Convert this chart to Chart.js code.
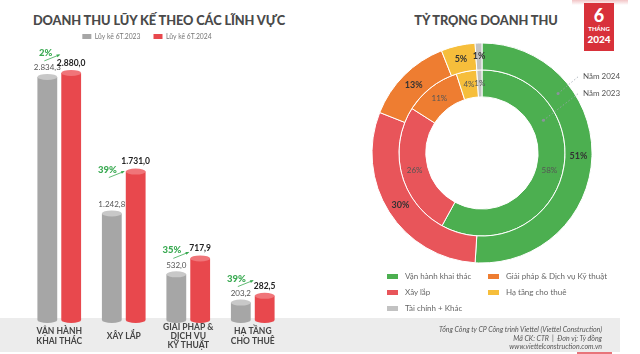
<!DOCTYPE html>
<html lang="vi">
<head>
<meta charset="utf-8">
<script src="https://cdn.jsdelivr.net/npm/chart.js@4.4.1/dist/chart.umd.min.js"></script>
<style>
  body { margin:0; width:640px; height:354px; background:#fff; position:relative; overflow:hidden; font-family: Lato, "Open Sans", sans-serif; }
  .band { position:absolute; left:0; top:318px; width:620px; height:34px; background:#ececec; }
  .title { position:absolute; font-weight:900; color:#4a4a4a; text-align:center; white-space:nowrap; letter-spacing:-0.1px; }
  #t1 { left:0; top:12px; width:318px; font-size:12.8px; }
  #t2 { left:400px; top:12px; width:172px; font-size:12.8px; }
  #barBox { position:absolute; left:0; top:20px; width:294px; height:334px; }
  #pieBox { position:absolute; left:360px; top:30px; width:280px; height:240px; }
  .shade { position:absolute; left:572px; top:0; width:56px; height:5px; background:linear-gradient(#f2c4c6, #fff); }
  .badge { position:absolute; left:584px; top:3px; width:30px; height:48px; background:#d8313a; color:#fff; text-align:center; font-weight:900; }
  .badge .n { font-size:18px; line-height:20px; margin-top:2px; }
  .badge .m { font-size:6px; line-height:8px; }
  .badge .y { font-size:10px; line-height:13px; }
  #legend2 { position:absolute; left:387px; top:268px; display:grid; grid-template-columns:101px 150px; grid-auto-rows:16px; font-size:8px; color:#666; }
  #legend2 div { display:flex; align-items:center; white-space:nowrap; }
  #legend2 span { display:inline-block; width:11px; height:5px; margin-right:7px; }
  .footer { position:absolute; right:38px; top:325px; text-align:right; font-style:italic; font-size:7px; line-height:8.5px; color:#555; }
  .redline { position:absolute; left:577px; top:352px; width:35px; height:2px; background:#e8747a; }
</style>
</head>
<body>
<div class="band"></div>
<div class="redline"></div>
<div class="title" id="t1">DOANH THU LŨY KẾ THEO CÁC LĨNH VỰC</div>
<div class="title" id="t2">TỶ TRỌNG DOANH THU</div>
<div class="shade"></div>
<div class="badge"><div class="n">6</div><div class="m">THÁNG</div><div class="y">2024</div></div>
<div id="barBox"><canvas id="barChart"></canvas></div>
<div id="pieBox"><canvas id="pieChart"></canvas></div>
<div id="legend2"></div>
<div class="footer">Tổng Công ty CP Công trình Viettel (Viettel Construction)<br>Mã CK: CTR &nbsp;|&nbsp; Đơn vị: Tỷ đồng<br>www.viettelconstruction.com.vn</div>
<script>
// bar chart data
const categories = [['VẬN HÀNH', 'KHAI THÁC'], ['XÂY LẮP'], ['GIẢI PHÁP &', 'DỊCH VỤ', 'KỸ THUẬT'], ['HẠ TẦNG', 'CHO THUÊ']];
const seriesNames = ['Lũy kế 6T.2023', 'Lũy kế 6T.2024'];
const values2023 = [2834.3, 1242.8, 532.0, 203.2];
const values2024 = [2880.0, 1731.0, 717.9, 282.5];

// donut data (%)
const shareLabels = ['Vận hành khai thác', 'Xây lắp', 'Giải pháp & Dịch vụ Kỹ thuật', 'Hạ tầng cho thuê', 'Tài chính + Khác'];
const share2024 = [51, 30, 13, 5, 1];
const share2023 = [58, 26, 11, 4, 1];
const ringNames = ['Năm 2024', 'Năm 2023'];
const legendOrder = [0, 2, 1, 3, 4];

const pieColors = ['#4caf50', '#e8555a', '#ee7d31', '#f6be3b', '#c2c2c2'];
const font = 'Lato, "Open Sans", sans-serif';

function fmt(v) {
    let parts = v.toFixed(1).split('.');
    return parts[0].replace(/\B(?=(\d{3})+(?!\d))/g, '.') + ',' + parts[1];
}

let barExtras = {
    id: 'barExtras',
    afterLayout(chart) {
        // legend sits a bit left of the plot centre in the original
        chart.legend.left -= 9;
        chart.legend.right -= 9;
    },
    afterDatasetsDraw(chart) {
        let ctx = chart.ctx;
        ctx.save();
        chart.data.datasets.forEach((ds, di) => {
            chart.getDatasetMeta(di).data.forEach(bar => {
                let w = bar.width / 2;
                ctx.fillStyle = ds.backgroundColor;
                ctx.beginPath();
                ctx.ellipse(bar.x, bar.base, w, 3, 0, 0, Math.PI);
                ctx.fill();
                ctx.fillStyle = ds.capColor;
                ctx.beginPath();
                ctx.ellipse(bar.x, bar.y, w, 3, 0, 0, 2 * Math.PI);
                ctx.fill();
            });
        });
        let gray = chart.getDatasetMeta(0).data;
        let red = chart.getDatasetMeta(1).data;
        ctx.textBaseline = 'middle';
        gray.forEach((g, i) => {
            let r = red[i];
            ctx.textAlign = 'center';
            ctx.font = '8px ' + font;
            ctx.fillStyle = '#555';
            ctx.fillText(fmt(values2023[i]), g.x, g.y - 9);
            ctx.font = 'bold 8.5px ' + font;
            ctx.fillStyle = '#222';
            ctx.fillText(fmt(values2024[i]), r.x, r.y - 10);

            // growth % with a small arrow
            let growth = Math.round((values2024[i] / values2023[i] - 1) * 100) + '%';
            let xr = g.x + 5;
            let gy = Math.min(g.y - 24, r.y - 2);
            ctx.textAlign = 'right';
            ctx.font = '900 9.5px ' + font;
            ctx.fillStyle = '#3aaa52';
            ctx.fillText(growth, xr, gy);
            let x1 = xr - 8, y1 = gy + 8, x2 = xr + 7, y2 = gy + 2;
            ctx.strokeStyle = '#3aaa52';
            ctx.lineWidth = 0.8;
            ctx.beginPath();
            ctx.moveTo(x1, y1);
            ctx.lineTo(x2, y2);
            ctx.stroke();
            let a = Math.atan2(y2 - y1, x2 - x1);
            ctx.beginPath();
            ctx.moveTo(x2 + 1, y2 - 0.4);
            ctx.lineTo(x2 - 3 * Math.cos(a - 0.5), y2 - 3 * Math.sin(a - 0.5));
            ctx.lineTo(x2 - 3 * Math.cos(a + 0.5), y2 - 3 * Math.sin(a + 0.5));
            ctx.closePath();
            ctx.fill();
        });
        ctx.restore();
    }
};

new Chart(document.getElementById('barChart'), {
    type: 'bar',
    data: {
        labels: categories,
        datasets: [
            { label: seriesNames[0], data: values2023, backgroundColor: '#a6a6a6', capColor: '#c8c8c8' },
            { label: seriesNames[1], data: values2024, backgroundColor: '#e8484d', capColor: '#f07579' }
        ]
    },
    options: {
        maintainAspectRatio: false,
        animation: false,
        categoryPercentage: 0.74,
        barPercentage: 0.83,
        layout: { padding: { left: 27, right: 9, top: 0, bottom: 0 } },
        plugins: {
            legend: {
                labels: { boxWidth: 9, boxHeight: 5, color: '#777', padding: 13, font: { size: 6.8, family: font } }
            },
            tooltip: { enabled: false }
        },
        scales: {
            x: {
                grid: { display: false, drawTicks: false },
                border: { display: false },
                ticks: { color: '#444', padding: 7, crossAlign: 'center', maxRotation: 0, autoSkip: false,
                         font: { size: 8.5, weight: 'bold', family: '"Liberation Sans Narrow", ' + font, lineHeight: 1.1 } },
                afterFit: s => { s.height = 34; }
            },
            y: { display: false, min: 0, max: 3150 }
        }
    },
    plugins: [barExtras]
});

let pieExtras = {
    id: 'pieExtras',
    afterDatasetsDraw(chart) {
        let ctx = chart.ctx;
        ctx.save();
        ctx.textAlign = 'center';
        ctx.textBaseline = 'middle';
        chart.data.datasets.forEach((ds, di) => {
            chart.getDatasetMeta(di).data.forEach((arc, i) => {
                let p = arc.getCenterPoint();
                ctx.font = di === 0 ? 'bold 9px ' + font : '8px ' + font;
                ctx.fillStyle = di === 0 ? '#333' : '#555';
                ctx.fillText(ds.data[i] + '%', p.x, p.y);
            });
        });
        // leader lines to ring names
        let leaders = [[0, 52, -77], [1, 62, -60]];
        ctx.textAlign = 'left';
        ctx.font = '8px ' + font;
        leaders.forEach(([di, deg, dy]) => {
            let arc = chart.getDatasetMeta(di).data[0];
            let rr = (arc.innerRadius + arc.outerRadius) / 2;
            let t = -Math.PI / 2 + deg * Math.PI / 180;
            let px = arc.x + rr * Math.cos(t), py = arc.y + rr * Math.sin(t);
            ctx.strokeStyle = '#9aa3ad';
            ctx.lineWidth = 0.8;
            ctx.setLineDash([1.5, 2]);
            ctx.beginPath();
            ctx.moveTo(px, py);
            ctx.lineTo(arc.x + 97, arc.y + dy);
            ctx.stroke();
            ctx.setLineDash([]);
            ctx.fillStyle = '#8a939c';
            ctx.beginPath();
            ctx.arc(px, py, 1.5, 0, 2 * Math.PI);
            ctx.fill();
            ctx.fillStyle = '#555';
            ctx.fillText(ringNames[di], arc.x + 101, arc.y + dy);
        });
        ctx.restore();
    }
};

new Chart(document.getElementById('pieChart'), {
    type: 'doughnut',
    data: {
        labels: shareLabels,
        datasets: [
            { label: ringNames[0], data: share2024, backgroundColor: pieColors, borderColor: '#fff', borderWidth: 1 },
            { label: ringNames[1], data: share2023, backgroundColor: pieColors, borderColor: '#fff', borderWidth: 1 }
        ]
    },
    options: {
        maintainAspectRatio: false,
        animation: false,
        radius: 110,
        cutout: '51%',
        layout: { padding: { left: 0, right: 36, top: 6, bottom: 0 } },
        plugins: { legend: { display: false }, tooltip: { enabled: false } }
    },
    plugins: [pieExtras]
});

// legend for the donut, two columns
let lg = document.getElementById('legend2');
legendOrder.forEach(i => {
    let d = document.createElement('div');
    d.innerHTML = '<span style="background:' + pieColors[i] + '"></span>' + shareLabels[i];
    lg.appendChild(d);
});
</script>
</body>
</html>
